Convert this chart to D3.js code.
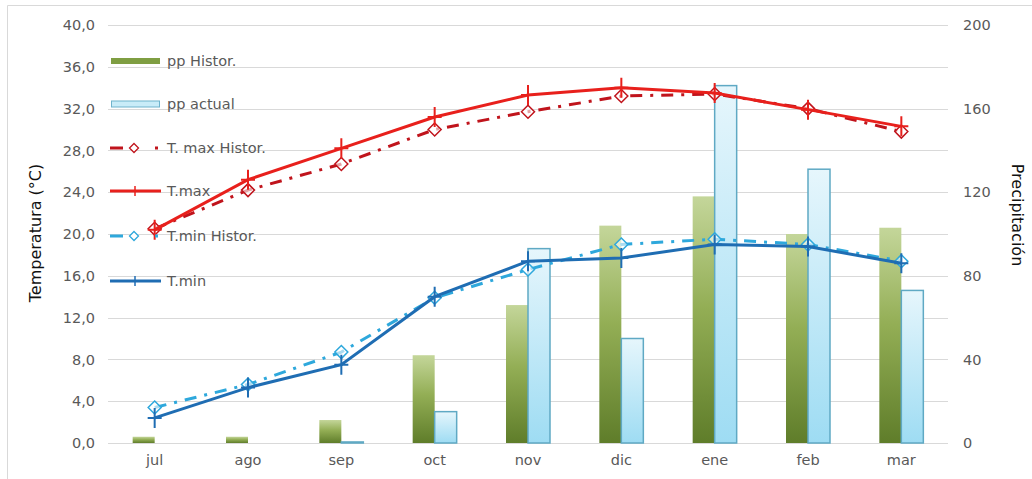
<!DOCTYPE html>
<html>
<head>
<meta charset="utf-8">
<script src="https://cdn.jsdelivr.net/npm/d3@7"></script>
<style>
  body { margin: 0; background: #fff; }
  text { font-family: "DejaVu Sans", "Liberation Sans", Arial, sans-serif; }
</style>
</head>
<body>
<div id="chart"></div>
<script>
// data
var months = ["jul", "ago", "sep", "oct", "nov", "dic", "ene", "feb", "mar"];
var ppHistor = [3, 3, 11, 42, 66, 104, 118, 100, 103];
var ppActual = [0, 0, 0.5, 15, 93, 50, 171, 131, 73];
var tMaxHistor = [20.5, 24.2, 26.7, 30.0, 31.7, 33.2, 33.4, 32.0, 29.8];
var tMax = [20.4, 25.2, 28.2, 31.2, 33.3, 34.0, 33.5, 31.9, 30.3];
var tMinHistor = [3.4, 5.6, 8.7, 13.9, 16.6, 19.0, 19.5, 19.0, 17.4];
var tMin = [2.4, 5.3, 7.5, 14.0, 17.4, 17.7, 19.0, 18.8, 17.2];
var tempTicks = [0, 4, 8, 12, 16, 20, 24, 28, 32, 36, 40];
var ppTicks = [0, 40, 80, 120, 160, 200];

var W = 1032, H = 479;
var plotLeft = 108, plotRight = 948, plotTop = 25, plotBottom = 443;
var fs = "14.5px";

var svg = d3.select("#chart").append("svg")
    .attr("width", W)
    .attr("height", H);

// outer frame
svg.append("path")
    .attr("d", "M7.5," + H + "V5.5H" + W)
    .attr("fill", "none")
    .attr("stroke", "#d9d9d9");

var defs = svg.append("defs");
var gGreen = defs.append("linearGradient").attr("id", "gGreen")
    .attr("x1", 0).attr("y1", 0).attr("x2", 0).attr("y2", 1);
gGreen.append("stop").attr("offset", "0%").attr("stop-color", "#c4d69a");
gGreen.append("stop").attr("offset", "45%").attr("stop-color", "#93ae55");
gGreen.append("stop").attr("offset", "100%").attr("stop-color", "#5f7d2a");
var gBlue = defs.append("linearGradient").attr("id", "gBlue")
    .attr("x1", 0).attr("y1", 0).attr("x2", 0).attr("y2", 1);
gBlue.append("stop").attr("offset", "0%").attr("stop-color", "#e6f6fc");
gBlue.append("stop").attr("offset", "100%").attr("stop-color", "#9edcf3");

var x = d3.scaleBand()
    .domain(months)
    .range([plotLeft, plotRight])
    .padding(0);

var yT = d3.scaleLinear().domain([0, 40]).range([plotBottom, plotTop]);
var yP = d3.scaleLinear().domain([0, 200]).range([plotBottom, plotTop]);

// gridlines
svg.append("g")
    .selectAll("line")
    .data(tempTicks)
    .enter()
    .append("line")
    .attr("x1", plotLeft)
    .attr("x2", plotRight)
    .attr("y1", function(d) { return Math.round(yT(d)) + 0.5; })
    .attr("y2", function(d) { return Math.round(yT(d)) + 0.5; })
    .attr("stroke", "#d9d9d9")
    .attr("stroke-width", 1.2);

// left axis
var axL = svg.append("g")
    .attr("transform", "translate(" + plotLeft + ",0)")
    .call(d3.axisLeft(yT).tickValues(tempTicks).tickSize(0).tickPadding(13)
        .tickFormat(function(d) { return d3.format(".1f")(d).replace(".", ","); }));
axL.select(".domain").remove();
axL.selectAll("text").attr("font-size", fs).attr("fill", "#595959");

// right axis
var axR = svg.append("g")
    .attr("transform", "translate(" + plotRight + ",0)")
    .call(d3.axisRight(yP).tickValues(ppTicks).tickSize(0).tickPadding(15));
axR.select(".domain").remove();
axR.selectAll("text").attr("font-size", fs).attr("fill", "#595959");

// bottom axis
var axB = svg.append("g")
    .attr("transform", "translate(0," + plotBottom + ")")
    .call(d3.axisBottom(x).tickSize(0).tickPadding(12));
axB.select(".domain").remove();
axB.selectAll("text").attr("font-size", fs).attr("fill", "#595959");

// axis titles
svg.append("text")
    .attr("transform", "translate(41,233) rotate(-90)")
    .attr("text-anchor", "middle")
    .attr("font-size", "16px")
    .attr("fill", "#111")
    .text("Temperatura (°C)");
svg.append("text")
    .attr("transform", "translate(1012,215) rotate(90)")
    .attr("text-anchor", "middle")
    .attr("font-size", "16px")
    .attr("fill", "#111")
    .text("Precipitación");

// bars
var bw = 22;
svg.append("g")
    .selectAll("rect")
    .data(ppHistor)
    .enter()
    .append("rect")
    .attr("x", function(d, i) { return x(months[i]) + x.bandwidth() / 2 - bw; })
    .attr("y", function(d) { return yP(d); })
    .attr("width", bw)
    .attr("height", function(d) { return yP(0) - yP(d); })
    .attr("fill", "url(#gGreen)");

svg.append("g")
    .selectAll("rect")
    .data(ppActual)
    .enter()
    .append("rect")
    .attr("x", function(d, i) { return x(months[i]) + x.bandwidth() / 2; })
    .attr("y", function(d) { return yP(d); })
    .attr("width", bw)
    .attr("height", function(d) { return yP(0) - yP(d); })
    .attr("fill", "url(#gBlue)")
    .attr("stroke", function(d) { return d > 0 ? "#5fa9c4" : "none"; })
    .attr("stroke-width", 1.5);

// lines
var series = [
    {name: "T. max Histor.", values: tMaxHistor, color: "#c0141c", dash: "12,8,3,8", marker: "diamond"},
    {name: "T.max", values: tMax, color: "#e8201c", dash: null, marker: "plus"},
    {name: "T.min Histor.", values: tMinHistor, color: "#2ea8dc", dash: "12,8,3,8", marker: "diamond"},
    {name: "T.min", values: tMin, color: "#1f6db3", dash: null, marker: "plus"}
];

var line = d3.line()
    .x(function(d, i) { return x(months[i]) + x.bandwidth() / 2; })
    .y(function(d) { return yT(d); });

function drawMarker(g, type, color, cx, cy) {
    if (type === "diamond") {
        g.append("path")
            .attr("d", "M" + cx + "," + (cy - 6.5) + "L" + (cx + 6.5) + "," + cy +
                "L" + cx + "," + (cy + 6.5) + "L" + (cx - 6.5) + "," + cy + "Z")
            .attr("fill", "#fff")
            .attr("fill-opacity", 0.6)
            .attr("stroke", color)
            .attr("stroke-width", 1.5);
    } else {
        g.append("path")
            .attr("d", "M" + cx + "," + (cy - 10) + "V" + (cy + 10) + "M" + (cx - 7) + "," + cy + "H" + (cx + 7))
            .attr("stroke", color)
            .attr("stroke-width", 2);
    }
}

series.forEach(function(s) {
    var g = svg.append("g");
    g.append("path")
        .datum(s.values)
        .attr("d", line)
        .attr("fill", "none")
        .attr("stroke", s.color)
        .attr("stroke-width", 3)
        .attr("stroke-dasharray", s.dash);
    s.values.forEach(function(v, i) {
        drawMarker(g, s.marker, s.color, x(months[i]) + x.bandwidth() / 2, yT(v));
    });
});

// legend
var legend = svg.append("g");
var ly = [61, 104, 148, 191, 236, 281];
var tx = 167;

legend.append("rect")
    .attr("x", 111).attr("y", ly[0] - 3).attr("width", 49).attr("height", 6)
    .attr("fill", "#7f9e42");
legend.append("text")
    .attr("x", tx).attr("y", ly[0] + 5).attr("font-size", fs).attr("fill", "#595959")
    .text("pp Histor.");

legend.append("rect")
    .attr("x", 111.5).attr("y", ly[1] - 3).attr("width", 48).attr("height", 6)
    .attr("fill", "#c9ecf8").attr("stroke", "#6fb3cc");
legend.append("text")
    .attr("x", tx).attr("y", ly[1] + 5).attr("font-size", fs).attr("fill", "#595959")
    .text("pp actual");

series.forEach(function(s, i) {
    var yy = ly[i + 2];
    if (s.dash) {
        legend.append("path")
            .attr("d", "M110," + yy + "H123M155," + yy + "H158")
            .attr("stroke", s.color).attr("stroke-width", 3);
        legend.append("path")
            .attr("d", "M134," + (yy - 4.5) + "L138.5," + yy + "L134," + (yy + 4.5) + "L129.5," + yy + "Z")
            .attr("fill", "#fff").attr("stroke", s.color).attr("stroke-width", 1.3);
    } else {
        legend.append("line")
            .attr("x1", 110).attr("x2", 161).attr("y1", yy).attr("y2", yy)
            .attr("stroke", s.color).attr("stroke-width", 3);
        legend.append("path")
            .attr("d", "M135," + (yy - 5) + "V" + (yy + 5))
            .attr("stroke", s.color).attr("stroke-width", 1.5);
    }
    legend.append("text")
        .attr("x", tx).attr("y", yy + 5).attr("font-size", fs).attr("fill", "#595959")
        .text(s.name);
});
</script>
</body>
</html>
